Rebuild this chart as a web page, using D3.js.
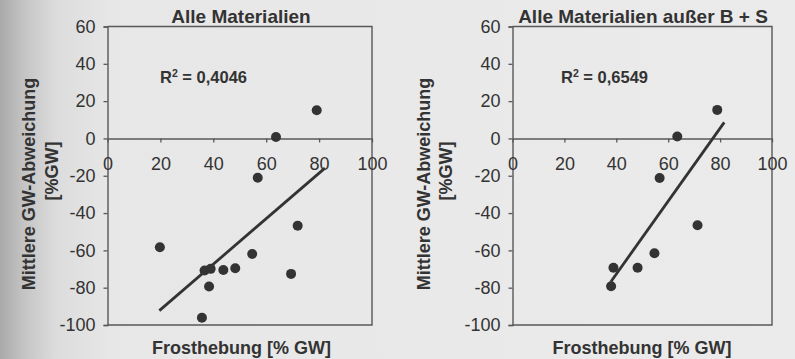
<!DOCTYPE html>
<html><head><meta charset="utf-8">
<script src="https://cdn.jsdelivr.net/npm/d3@7"></script>
<style>
html,body{margin:0;padding:0;background:#e9e9e9;}
svg{display:block;font-family:"Liberation Sans",Arial,sans-serif;}
</style></head>
<body><svg id="c" width="795" height="359"></svg>
<script>
// ---- data ----
const titles = ["Alle Materialien", "Alle Materialien außer B + S"];
const r2Values = ["0,4046", "0,6549"];
const xTickValues = [0, 20, 40, 60, 80, 100];
const yTickValues = [-100, -80, -60, -40, -20, 0, 20, 40, 60];
const xLabel = "Frosthebung [% GW]";
const yLabel1 = "Mittlere GW-Abweichung";
const yLabel2 = "[%GW]";

// Alle Materialien
const allFrost = [79.1, 63.7, 56.8, 19.8, 71.9, 54.7, 36.7, 39.0, 43.8, 48.3, 38.4, 69.4, 35.7];
const allDev   = [15.1, 0.8, -21.1, -58.3, -46.8, -61.9, -70.8, -69.9, -70.5, -69.6, -79.4, -72.6, -96.1];
const allTrendX = [19.6, 82.2];
const allTrendY = [-92.3, -15.9];

// Alle Materialien außer B + S
const subFrost = [78.9, 63.5, 56.7, 71.3, 54.7, 38.9, 48.2, 38.0];
const subDev   = [15.3, 1.0, -21.2, -46.5, -61.5, -69.3, -69.3, -79.2];
const subTrendX = [37.9, 81.6];
const subTrendY = [-76.8, 8.6];

const panels = [
  {title: titles[0], r2: r2Values[0], xs: allFrost, ys: allDev, tx: allTrendX, ty: allTrendY,
   left: 107.5, right: 372, titleX: 241, r2X: 160, yl1: 35, yl2: 57.5, xlX: 241.5},
  {title: titles[1], r2: r2Values[1], xs: subFrost, ys: subDev, tx: subTrendX, ty: subTrendY,
   left: 512.5, right: 772, titleX: 643, r2X: 561, yl1: 430, yl2: 452, xlX: 642}
];

const svg = d3.select("#c");
const defs = svg.append("defs");
const g = defs.append("linearGradient").attr("id","bg").attr("x1","0").attr("x2","1").attr("y1","0").attr("y2","0");
g.append("stop").attr("offset","0").attr("stop-color","#a9a9a9");
g.append("stop").attr("offset","0.03").attr("stop-color","#c4c4c4");
g.append("stop").attr("offset","0.07").attr("stop-color","#dcdcdc");
g.append("stop").attr("offset","0.14").attr("stop-color","#e7e7e7");
g.append("stop").attr("offset","1").attr("stop-color","#ebebeb");
svg.append("rect").attr("width",795).attr("height",359).attr("fill","url(#bg)");

const ink = "#333";
const axisCol = "#585858";
const plotTop = 26.5, plotBottom = 325;

panels.forEach(p => {
  const x = d3.scaleLinear().domain([0,100]).range([p.left, p.right]);
  const y = d3.scaleLinear().domain([-100,60]).range([plotBottom, plotTop]);
  const G = svg.append("g");

  // frame (top, right, bottom)
  G.append("path")
    .attr("d", `M${x(0)},${y(60)}H${x(100)}V${y(-100)}H${x(0)}`)
    .attr("fill","none").attr("stroke",axisCol).attr("stroke-width",1.4);

  // y axis
  const ya = G.append("g").attr("transform",`translate(${x(0)},0)`)
    .call(d3.axisLeft(y).tickValues(yTickValues).tickSize(4).tickPadding(8).tickFormat(d => String(d)));
  ya.attr("font-family",null).attr("font-size",null);
  ya.select(".domain").attr("stroke",axisCol).attr("stroke-width",1.4);
  ya.selectAll(".tick line").attr("stroke",axisCol).attr("stroke-width",1.3);
  ya.selectAll(".tick text").attr("fill",ink).style("font-size","18px");

  // x axis at y = 0
  const xa = G.append("g").attr("transform",`translate(0,${y(0)})`)
    .call(d3.axisBottom(x).tickValues(xTickValues).tickSize(4).tickSizeOuter(0).tickPadding(15).tickFormat(d => String(d)));
  xa.attr("font-family",null).attr("font-size",null);
  xa.select(".domain").attr("stroke",axisCol).attr("stroke-width",1.4);
  xa.selectAll(".tick line").attr("stroke",axisCol).attr("stroke-width",1.3);
  xa.selectAll(".tick text").attr("fill",ink).style("font-size","18px");

  // trend line
  G.append("line")
    .attr("x1", x(p.tx[0])).attr("y1", y(p.ty[0]))
    .attr("x2", x(p.tx[1])).attr("y2", y(p.ty[1]))
    .attr("stroke", ink).attr("stroke-width", 2.8);

  // points
  G.selectAll("circle.pt").data(p.xs.map((v,i)=>[v,p.ys[i]])).enter().append("circle")
    .attr("class","pt").attr("cx", d=>x(d[0])).attr("cy", d=>y(d[1])).attr("r", 5)
    .attr("fill", ink);

  // title
  G.append("text").attr("x", p.titleX).attr("y", 23.3).attr("text-anchor","middle")
    .attr("font-weight","bold").attr("font-size","19px").attr("fill",ink).text(p.title);

  // R²
  const t = G.append("text").attr("x", p.r2X).attr("y", 83.3)
    .attr("font-weight","bold").attr("font-size","16.5px").attr("fill",ink);
  t.append("tspan").text("R");
  t.append("tspan").attr("dy","-6").attr("font-size","10.5px").text("2");
  t.append("tspan").attr("dy","6").text(" = " + p.r2);

  // x label
  G.append("text").attr("x", p.xlX).attr("y", 353.5).attr("text-anchor","middle")
    .attr("font-weight","bold").attr("font-size","18px").attr("fill",ink).text(xLabel);

  // y labels
  G.append("text").attr("transform",`translate(${p.yl1},184) rotate(-90)`).attr("text-anchor","middle")
    .attr("font-weight","bold").attr("font-size","18px").attr("fill",ink).text(yLabel1);
  G.append("text").attr("transform",`translate(${p.yl2},171) rotate(-90)`).attr("text-anchor","middle")
    .attr("font-weight","bold").attr("font-size","18px").attr("fill",ink).text(yLabel2);
});
</script></body></html>
